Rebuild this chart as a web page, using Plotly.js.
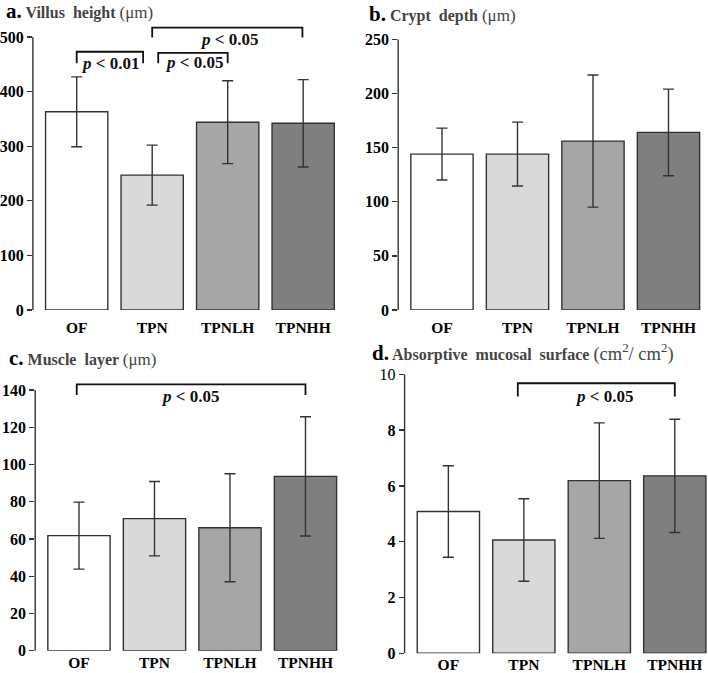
<!DOCTYPE html>
<html>
<head>
<meta charset="utf-8">
<script src="https://cdn.plot.ly/plotly-3.0.1.min.js"></script>
<style>html,body{margin:0;padding:0;background:#fff;}#chart{width:708px;height:673px;}</style>
</head>
<body>
<div id="chart"></div>
<script>
// ---------- data ----------
const categories = ['OF', 'TPN', 'TPNLH', 'TPNHH'];
const barColors = ['#ffffff', '#d9d9d9', '#a6a6a6', '#7f7f7f'];

const villusMean = [363, 247, 344, 342];
const villusSD   = [64, 55, 76, 80];
const cryptMean  = [144, 144, 156, 164];
const cryptSD    = [24, 29.5, 61, 40];
const muscleMean = [61.8, 70.9, 66, 93.6];
const muscleSD   = [18, 20, 29, 32];
const absorbMean = [5.08, 4.06, 6.19, 6.36];
const absorbSD   = [1.64, 1.48, 2.07, 2.03];

const villusTicks = [0, 100, 200, 300, 400, 500];
const villusTickText = ['0', '100', '200', '300', '400', '500'];
const cryptTicks = [0, 50, 100, 150, 200, 250];
const cryptTickText = ['0', '50', '100', '150', '200', '250'];
const muscleTicks = [0, 20, 40, 60, 80, 100, 120, 140];
const muscleTickText = ['0', '20', '40', '60', '80', '100', '120', '140'];
const absorbTicks = [0, 2, 4, 6, 8, 10];
const absorbTickText = ['<b>0</b>', '<b>2</b>', '<b>4</b>', '<b>6</b>', '<b>8</b>', '10'];

// significance comparisons: [from group index, to group index, label]
const villusComparisons = [[0, 1, 'p < 0.01'], [1, 2, 'p < 0.05'], [1, 3, 'p < 0.05']];
const muscleComparisons = [[0, 3, 'p < 0.05']];
const absorbComparisons = [[1, 3, 'p < 0.05']];

// ---------- layout helpers ----------
const W = 708, H = 673;
const FONT = 'Liberation Serif';
const INK = '#333333';
const xr = [-0.58, 3.44];

const panels = [
  {mean: villusMean, sd: villusSD, ticks: villusTicks, tt: villusTickText, top: 500, range: [0, 530],
   px: [32.9, 336.4], py: [310, 310 - 530 * 273 / 500], bold: true, stand: 6,
   title: '<span style="font-size:21px;color:#000"><b>a.</b></span><b> Villus  height </b><span style="font-size:17px">(μm)</span>',
   tx: 4, ty: 11},
  {mean: cryptMean, sd: cryptSD, ticks: cryptTicks, tt: cryptTickText, top: 250, range: [0, 250],
   px: [398.2, 701.7], py: [310, 39.3], bold: true, stand: 6,
   title: '<span style="font-size:21px;color:#000"><b>b.</b></span><b> Crypt  depth </b><span style="font-size:17px">(μm)</span>',
   tx: 367, ty: 13.5},
  {mean: muscleMean, sd: muscleSD, ticks: muscleTicks, tt: muscleTickText, top: 140, range: [0, 148],
   px: [35.2, 338.7], py: [650.7, 650.7 - 148 * 260.7 / 140], bold: true, stand: 1,
   title: '<span style="font-size:21px;color:#000"><b>c.</b></span><b> Muscle  layer </b><span style="font-size:17px">(μm)</span>',
   tx: 6.5, ty: 358},
  {mean: absorbMean, sd: absorbSD, ticks: absorbTicks, tt: absorbTickText, top: 10, range: [0, 10],
   px: [404.6, 708], py: [653.3, 374.3], bold: false, stand: 0,
   title: '<span style="font-size:21px;color:#000"><b>d.</b></span><b> Absorptive  mucosal  surface </b><span style="font-size:18.5px">(cm<sup>2</sup>/ cm<sup>2</sup>)</span>',
   tx: 370, ty: 352}
];

const bracketSpec = [
  {panel: 0, list: villusComparisons, geo: [
    {x0: 0, x1: 0.88, y: 473, yd: 452, ly: 452, lx: 0.44},
    {x0: 1.08, x1: 2.0, y: 471, yd: 452, ly: 454, lx: 1.55},
    {x0: 1.0, x1: 2.99, y: 517, yd: 499, ly: 496, lx: 2.02}]},
  {panel: 2, list: muscleComparisons, geo: [
    {x0: -0.03, x1: 3.0, y: 143, yd: 137.3, ly: 136.4, lx: 1.47}]},
  {panel: 3, list: absorbComparisons, geo: [
    {x0: 0.92, x1: 3.0, y: 9.68, yd: 9.2, ly: 9.2, lx: 2.06}]}
];

const data = [];
const layout = {
  width: W, height: H,
  margin: {l: 0, r: 0, t: 0, b: 0},
  paper_bgcolor: '#ffffff', plot_bgcolor: 'rgba(0,0,0,0)',
  showlegend: false,
  bargap: 0.175,
  font: {family: FONT, color: '#000'},
  shapes: [], annotations: []
};

panels.forEach((p, i) => {
  const n = i === 0 ? '' : String(i + 1);
  data.push({
    type: 'bar', x: categories, y: p.mean,
    xaxis: 'x' + n, yaxis: 'y' + n,
    marker: {color: barColors, line: {color: INK, width: 1.4}},
    error_y: {type: 'data', array: p.sd, visible: true, color: INK, thickness: 1.4, width: 5.5},
    hoverinfo: 'skip'
  });
  layout['xaxis' + n] = {
    domain: [p.px[0] / W, p.px[1] / W], range: xr, anchor: 'y' + n,
    showline: false, showgrid: false, zeroline: false, ticks: '',
    ticklabelstandoff: p.stand,
    tickfont: {family: FONT, size: 15.5, color: '#000', weight: 'bold'},
    fixedrange: true
  };
  layout['yaxis' + n] = {
    domain: [1 - p.py[0] / H, 1 - p.py[1] / H], range: p.range, anchor: 'x' + n,
    showline: false, showgrid: false, zeroline: false,
    tickmode: 'array', tickvals: p.ticks, ticktext: p.tt,
    ticks: 'outside', ticklen: 5, tickwidth: 1.3, tickcolor: INK,
    tickfont: {family: FONT, size: 16, color: '#000', weight: p.bold ? 'bold' : 'normal'},
    fixedrange: true
  };
  // y-axis line up to the top tick
  layout.shapes.push({type: 'line', xref: 'x' + n + ' domain', yref: 'y' + n,
    x0: 0, x1: 0, y0: 0, y1: p.top, line: {color: INK, width: 1.4}});
  // panel title
  layout.annotations.push({xref: 'paper', yref: 'paper', x: p.tx / W, y: 1 - p.ty / H,
    xanchor: 'left', yanchor: 'middle', showarrow: false, align: 'left',
    text: p.title, font: {family: FONT, size: 16, color: '#444'}});
});

bracketSpec.forEach(b => {
  const n = b.panel === 0 ? '' : String(b.panel + 1);
  b.list.forEach((c, k) => {
    const g = b.geo[k];
    layout.shapes.push({type: 'path', xref: 'x' + n, yref: 'y' + n,
      path: `M ${g.x0},${g.yd} L ${g.x0},${g.y} L ${g.x1},${g.y} L ${g.x1},${g.yd}`,
      line: {color: '#111', width: 1.8}});
    const parts = c[2].split(' ');
    layout.annotations.push({xref: 'x' + n, yref: 'y' + n, x: g.lx, y: g.ly,
      xanchor: 'center', yanchor: 'middle', showarrow: false,
      text: '<b><i>' + parts[0] + '</i> ' + parts.slice(1).join(' ') + '</b>',
      font: {family: FONT, size: 17, color: '#111'}});
  });
});

Plotly.newPlot('chart', data, layout, {staticPlot: true, displayModeBar: false});
</script>
</body>
</html>
